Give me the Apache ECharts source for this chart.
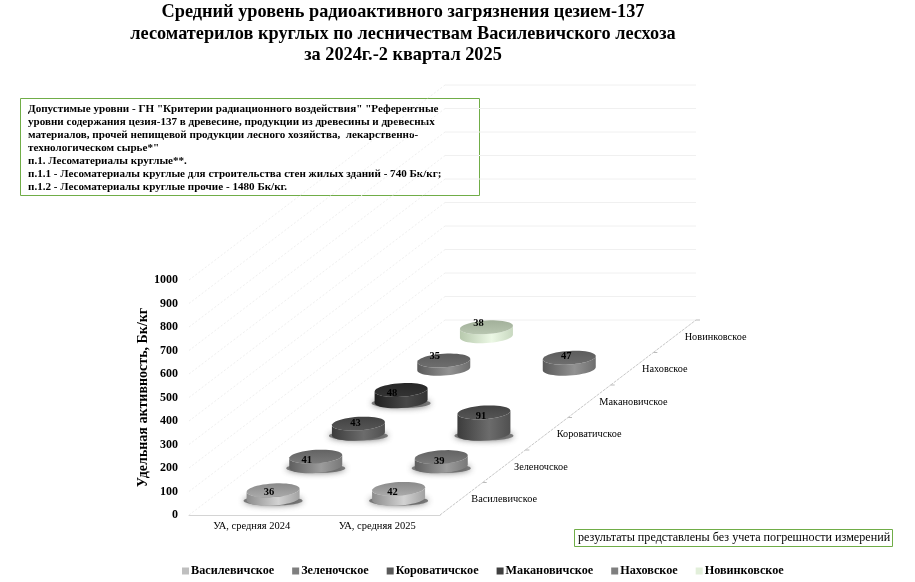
<!DOCTYPE html>
<html><head><meta charset="utf-8">
<style>html,body{margin:0;padding:0;background:#fff}#c{width:915px;height:582px}</style>
<script src="https://cdn.jsdelivr.net/npm/echarts@6/dist/echarts.min.js"></script>
</head><body><div id="c"></div>
<script>
var periods = ['УА, средняя 2024', 'УА, средняя 2025'];
var forestries = ['Василевичское', 'Зеленочское', 'Коровaтичское'.replace('a', 'а'), 'Макановичское', 'Наховское', 'Новинковское'];
var vasilevichskoe = [36, 42];
var zelenochskoe = [41, 39];
var korovatichskoe = [43, 91];
var makanovichskoe = [48, null];
var nakhovskoe = [35, 47];
var novinkovskoe = [38, null];
var yTicks = [0, 100, 200, 300, 400, 500, 600, 700, 800, 900, 1000];
var titleLines = 'Средний уровень радиоактивного загрязнения цезием-137\nлесоматерилов круглых по лесничествам Василевичского лесхоза\nза 2024г.-2 квартал 2025';
var noteText = 'Допустимые уровни - ГН "Критерии радиационного воздействия" "Референтные\nуровни содержания цезия-137 в древесине, продукции из древесины и древесных\nматериалов, прочей непищевой продукции лесного хозяйства,  лекарственно-\nтехнологическом сырье*"\nп.1. Лесоматериалы круглые**.\nп.1.1 - Лесоматериалы круглые для строительства стен жилых зданий - 740 Бк/кг;\nп.1.2 - Лесоматериалы круглые прочие - 1480 Бк/кг.';
var footText = 'результаты представлены без учета погрешности измерений';

var seriesValues = [vasilevichskoe, zelenochskoe, korovatichskoe, makanovichskoe, nakhovskoe, novinkovskoe];

// Oblique projection of the depth axis and drawing style (no data here)
var DX = 42.67, DY = -32.5, RX = 26.5, RY = 6.8, TILT = 0.06;
var FONT = '"Liberation Serif","Times New Roman",serif';
var legendColors = ['#BFBFBF', '#7F7F7F', '#595959', '#3F3F3F', '#7F7F7F', '#E2EFDA'];
var topColors = [['#8a8a8a','#aaaaaa'],['#636363','#7b7b7b'],['#424242','#565656'],['#272727','#343434'],['#5c5c5c','#6e6e6e'],['#a2b09a','#b8c6b0']];
var sideColors = [['#8c8c8c','#d2d2d2','#a2a2a2'],['#5e5e5e','#9c9c9c','#787878'],['#3c3c3c','#6c6c6c','#505050'],['#202020','#484848','#343434'],['#5a5a5a','#929292','#6e6e6e'],['#b7c9ad','#ecf8e5','#c8d8c0']];
var hasShadow = [true, true, true, true, false, false];
var labelNudge = [[[-4,2],[-6,3]],[[-9,4],[-2,4]],[[-3,0],[-3,4]],[[-9,3],[0,0]],[[-9,-4],[-3,-1]],[[-8,-4],[0,0]]];

function grad(stops, vertical) {
  var cs = stops.map(function (c, i) { return { offset: stops.length === 3 ? [0, 0.6, 1][i] : i, color: c }; });
  return { type: 'linear', x: 0, y: 0, x2: vertical ? 0 : 1, y2: vertical ? 1 : 0, colorStops: cs };
}
function arc(cx, cy, from, to, n) {
  var pts = [];
  for (var i = 0; i <= n; i++) {
    var t = from + (to - from) * i / n;
    pts.push([cx + RX * Math.cos(t), cy + RY * Math.sin(t) - TILT * RX * Math.cos(t)]);
  }
  return pts;
}
function cylinder(d) {
  return function (params, api) {
    var xi = api.value(0), v = api.value(1);
    var base = api.coord([xi, 0]), top = api.coord([xi, v]);
    var off = (d + 0.5);
    var cx = base[0] + DX * off, by = base[1] + DY * off, ty = top[1] + DY * off;
    var side = arc(cx, by, 0, Math.PI, 24).concat(arc(cx, ty, Math.PI, 0, 24));
    var kids = [];
    if (hasShadow[d]) {
      kids.push({ type: 'ellipse', shape: { cx: cx, cy: by + 2, rx: RX + 3, ry: RY - 2 },
        style: { fill: 'rgba(90,90,90,0.75)', shadowBlur: 6, shadowColor: 'rgba(60,60,60,0.9)' } });
    }
    kids.push({ type: 'polygon', shape: { points: side }, style: { fill: grad(sideColors[d]) } });
    kids.push({ type: 'polygon', shape: { points: arc(cx, ty, 0, Math.PI * 2, 48) }, style: { fill: grad(topColors[d], true) } });
    var n = labelNudge[d][xi];
    kids.push({ type: 'text', style: { text: String(v), x: cx + n[0], y: ty + n[1], align: 'center', verticalAlign: 'middle',
      fill: '#000', font: 'bold 10.5px ' + FONT } });
    return { type: 'group', children: kids };
  };
}
function frame(params, api) {
  var cs = params.coordSys, i = api.value(0), t = yTicks[i];
  var p = api.coord([0, t]);
  var depth = forestries.length;
  var xl = cs.x, y = p[1];
  var xb = xl + DX * depth, yb = y + DY * depth;
  var kids = [
    { type: 'line', shape: { x1: xl, y1: y, x2: xb, y2: yb }, style: { stroke: '#efefef', lineWidth: 1, lineDash: [2, 2] } },
    { type: 'line', shape: { x1: xb, y1: yb, x2: xb + cs.width, y2: yb }, style: { stroke: '#f0f0f0', lineWidth: 1 } }
  ];
  return { type: 'group', children: kids };
}
function depthAxis(params, api) {
  var cs = params.coordSys, i = api.value(0);
  var x0 = cs.x + cs.width, y0 = cs.y + cs.height;
  var kids = [
    { type: 'line', shape: { x1: x0 + DX * i, y1: y0 + DY * i, x2: x0 + DX * (i + 1), y2: y0 + DY * (i + 1) }, style: { stroke: '#c8c8c8', lineWidth: 1, lineDash: [3, 1] } },
    { type: 'line', shape: { x1: x0 + DX * (i + 1), y1: y0 + DY * (i + 1), x2: x0 + DX * (i + 1) + 4, y2: y0 + DY * (i + 1) }, style: { stroke: '#bbb', lineWidth: 1 } },
    { type: 'text', style: { text: forestries[i], x: x0 + DX * (i + 0.5) + 10, y: y0 + DY * (i + 0.5) + 1, align: 'left', verticalAlign: 'middle', fill: '#000', font: '10.3px ' + FONT } }
  ];
  return { type: 'group', children: kids };
}

var series = [
  { type: 'custom', name: '_frame', z: 1, silent: true, renderItem: frame, data: yTicks.map(function (t, i) { return [i]; }), encode: { x: -1, y: -1 } },
  { type: 'custom', name: '_depth', z: 2, silent: true, renderItem: depthAxis, data: forestries.map(function (f, i) { return [i]; }), encode: { x: -1, y: -1 } }
];
forestries.forEach(function (name, d) {
  var rows = [];
  seriesValues[d].forEach(function (v, i) { if (v !== null) rows.push([i, v]); });
  series.push({ type: 'custom', name: name, z: 20 - d, renderItem: cylinder(d), data: rows,
    encode: { x: 0, y: 1 }, itemStyle: { color: legendColors[d] } });
});

var chart = echarts.init(document.getElementById('c'), null, { renderer: 'canvas' });
chart.setOption({
  animation: false,
  backgroundColor: '#fff',
  textStyle: { fontFamily: FONT },
  title: { text: titleLines, left: 403, top: 2, padding: 0, textAlign: 'center',
    textStyle: { fontFamily: FONT, fontSize: 18.3, fontWeight: 'bold', color: '#000', lineHeight: 21.5 } },
  legend: { data: forestries, left: 182, top: 565, icon: 'rect', itemWidth: 7, itemHeight: 7, itemGap: 18, padding: 0,
    textStyle: { fontFamily: FONT, fontSize: 12.2, fontWeight: 'bold', color: '#000', padding: [0, 0, 0, -3] } },
  grid: { left: 189, top: 280, width: 251, height: 235 },
  tooltip: { show: false },
  xAxis: { type: 'category', data: periods, axisTick: { show: false },
    axisLine: { lineStyle: { color: '#d4d4d4', width: 1 } },
    axisLabel: { color: '#000', fontFamily: FONT, fontSize: 10.5, margin: 6 } },
  yAxis: { type: 'value', min: 0, max: 1000, interval: 100,
    name: 'Удельная активность, Бк/кг', nameLocation: 'middle', nameGap: 34,
    nameTextStyle: { fontFamily: FONT, fontSize: 14, fontWeight: 'bold', color: '#000' },
    axisLine: { show: false }, axisTick: { show: false }, splitLine: { show: false },
    axisLabel: { color: '#000', fontFamily: FONT, fontSize: 12, fontWeight: 'bold', margin: 11, formatter: function (v) { return String(v); } } },
  series: series,
  graphic: [
    { type: 'group', z: 100, children: [
      { type: 'rect', shape: { x: 20.5, y: 98.5, width: 459, height: 97 }, style: { fill: '#fff', stroke: '#70AD47', lineWidth: 1 } },
      { type: 'text', style: { x: 28, y: 103, text: noteText, fill: '#000', font: 'bold 11.1px ' + FONT, lineHeight: 13, align: 'left', verticalAlign: 'top' } }
    ] },
    { type: 'group', z: 100, children: [
      { type: 'rect', shape: { x: 574.5, y: 529.5, width: 318, height: 17 }, style: { fill: '#fff', stroke: '#70AD47', lineWidth: 1 } },
      { type: 'text', style: { x: 578, y: 538, text: footText, fill: '#000', font: '12.15px ' + FONT, align: 'left', verticalAlign: 'middle' } }
    ] }
  ]
});
</script></body></html>
